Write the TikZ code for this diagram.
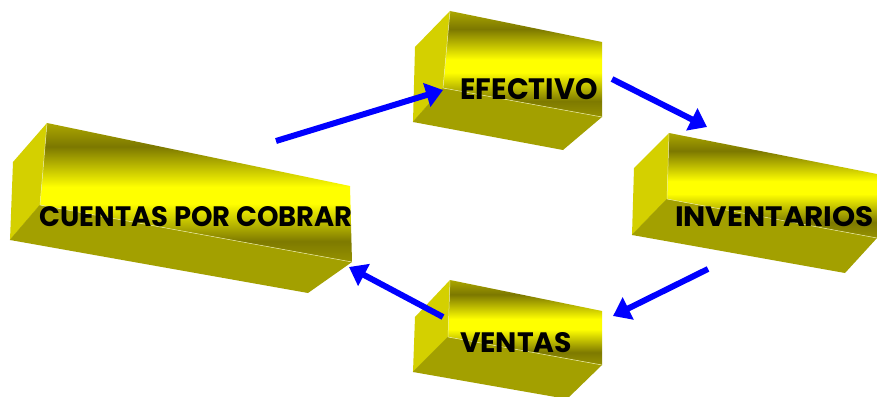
\documentclass[tikz,border=0pt]{standalone}
\usepackage{fontspec}
\usepackage{graphicx}
\setmainfont{Poppins}
\usetikzlibrary{arrows.meta}
\definecolor{sideL}{RGB}{212,208,0}
\definecolor{sideB}{RGB}{163,160,0}
\definecolor{fT}{RGB}{172,167,0}
\definecolor{fD}{RGB}{124,120,0}
\definecolor{fY}{RGB}{255,255,0}
\definecolor{fD2}{RGB}{126,122,0}
\definecolor{fB}{RGB}{150,146,0}
\definecolor{edgehi}{RGB}{235,235,160}
\definecolor{flowblue}{RGB}{0,0,255}
% vertical profile over the face's bounding box: 75bp = top, 25bp = bottom
\pgfdeclareverticalshading{facegrad}{100bp}{color(0bp)=(fB); color(25bp)=(fB); color(32.5bp)=(fD2); color(46bp)=(fY); color(52bp)=(fY); color(66.5bp)=(fD); color(75bp)=(fT); color(100bp)=(fT)}
\newcommand\boxsides[1]{%
  \fill[sideL] (#1-tl) -- (#1-lt) -- (#1-lb) -- (#1-bl) -- cycle;
  \fill[sideB] (#1-bl) -- (#1-br) -- (#1-bo) -- (#1-lb) -- cycle;
  \draw[sideB, line width=0.4pt] (#1-bl) -- (#1-lb);}
\newcommand\frontface[1]{%
  \shade[shading=facegrad] (#1-tl) -- (#1-tr) -- (#1-br) -- (#1-bl) -- cycle;
  \draw[edgehi, line width=0.5pt] (#1-tl) -- (#1-bl) -- (#1-br);}
\tikzset{
  flow/.style={draw=flowblue, line width=6pt, -{Triangle[length=17pt,width=24pt]}},
  label/.style={inner sep=0pt, text=black, font=\bfseries}
}
\begin{document}
\begin{tikzpicture}[x=1pt,y=-1pt]
\useasboundingbox (0,0) rectangle (877,396);
\clip (0,0) rectangle (877,396);
\fill[white] (0,0) rectangle (877,396);
% EFECTIVO box
\coordinate (e-tl) at (450,11);  \coordinate (e-tr) at (602,42);
\coordinate (e-br) at (602,117); \coordinate (e-bl) at (443,88);
\coordinate (e-lt) at (415,47);  \coordinate (e-lb) at (413,122);
\coordinate (e-bo) at (563,150);
% CUENTAS POR COBRAR box
\coordinate (c-tl) at (47,123);  \coordinate (c-tr) at (350,186);
\coordinate (c-br) at (352,262); \coordinate (c-bl) at (40,205);
\coordinate (c-lt) at (13,162);  \coordinate (c-lb) at (10,240);
\coordinate (c-bo) at (308,293);
% INVENTARIOS box
\coordinate (i-tl) at (669,133); \coordinate (i-tr) at (877,174);
\coordinate (i-br) at (877,238); \coordinate (i-bl) at (667,199);
\coordinate (i-lt) at (634,168); \coordinate (i-lb) at (632,235);
\coordinate (i-bo) at (845,273);
% VENTAS box
\coordinate (v-tl) at (450,280); \coordinate (v-tr) at (602,311);
\coordinate (v-br) at (602,365); \coordinate (v-bl) at (448,337);
\coordinate (v-lt) at (415,317); \coordinate (v-lb) at (413,372);
\coordinate (v-bo) at (567,399);

\boxsides{e}\frontface{e}
\boxsides{c}\frontface{c}
\boxsides{i}\frontface{i}
\boxsides{v}\frontface{v}

\node[label] (efectivo) at (529,89) {\resizebox{137pt}{21pt}{EFECTIVO}};
\node[label] (cuentas) at (196,216.5) {\resizebox{313pt}{20pt}{CUENTAS POR COBRAR}};
\node[label] (inventarios) at (774.5,216.5) {\resizebox{199pt}{20pt}{INVENTARIOS}};
\node[label] (ventas) at (516,343) {\resizebox{112pt}{20pt}{VENTAS}};

\coordinate (a1s) at (276,141); \coordinate (a1e) at (443,90);
\coordinate (a2s) at (612,79);  \coordinate (a2e) at (707,127);
\coordinate (a3s) at (708,269); \coordinate (a3e) at (613,316);
\coordinate (a4s) at (443,317); \coordinate (a4e) at (349,267);
\draw[flow] (a1s) -- (a1e);
\draw[flow] (a2s) -- (a2e);
\draw[flow] (a3s) -- (a3e);
\draw[flow] (a4s) -- (a4e);
\end{tikzpicture}
\end{document}
